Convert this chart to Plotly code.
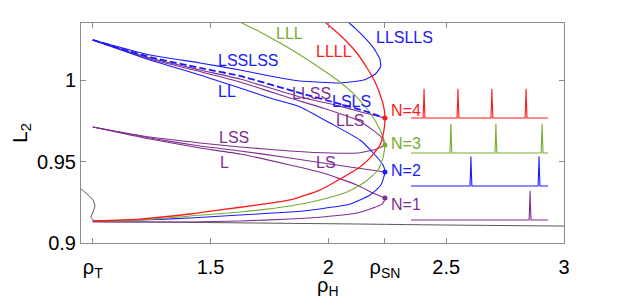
import plotly.graph_objects as go

# ---------------- data ----------------
rho_T, rho_H, rho_SN = 1.0, 2.0, 2.24

# folded branches (upper branch -> fold point -> lower branch)
red_x = [1.939, 1.990, 2.049, 2.121, 2.164, 2.198, 2.223, 2.236, 2.240, 2.236, 2.219, 2.177, 2.134, 2.020, 1.964, 1.837, 1.697, 1.540, 1.413, 1.200, 1.000]
red_y = [1.0411, 1.0350, 1.0276, 1.0166, 1.0074, 0.9988, 0.9896, 0.9828, 0.9767, 0.9693, 0.9601, 0.9522, 0.9466, 0.9368, 0.9325, 0.9264, 0.9233, 0.9203, 0.9178, 0.9147, 0.9135]

green_x = [1.582, 1.633, 1.710, 1.795, 1.880, 1.977, 2.049, 2.104, 2.147, 2.177, 2.202, 2.219, 2.236, 2.240, 2.232, 2.211, 2.155, 2.079, 1.964, 1.837, 1.625, 1.413, 1.200, 1.000]
green_y = [1.0387, 1.0350, 1.0295, 1.0227, 1.0154, 1.0062, 0.9988, 0.9920, 0.9853, 0.9798, 0.9743, 0.9693, 0.9632, 0.9601, 0.9522, 0.9448, 0.9374, 0.9313, 0.9264, 0.9227, 0.9190, 0.9166, 0.9141, 0.9135]

blue_x = [1.000, 1.243, 1.455, 1.625, 1.752, 1.880, 2.007, 2.134, 2.198, 2.232, 2.240, 2.223, 2.177, 2.092, 1.964, 1.837, 1.625, 1.413, 1.200, 1.000]
blue_y = [1.0246, 1.0123, 1.0031, 0.9951, 0.9890, 0.9835, 0.9736, 0.9632, 0.9540, 0.9479, 0.9436, 0.9356, 0.9295, 0.9239, 0.9209, 0.9190, 0.9172, 0.9153, 0.9141, 0.9135]

purple_x = [1.000, 1.243, 1.455, 1.625, 1.837, 1.977, 2.121, 2.189, 2.228, 2.240, 2.228, 2.189, 2.121, 1.977, 1.837, 1.625, 1.413, 1.000]
purple_y = [0.9712, 0.9638, 0.9583, 0.9546, 0.9479, 0.9430, 0.9356, 0.9307, 0.9282, 0.9270, 0.9239, 0.9215, 0.9184, 0.9160, 0.9147, 0.9135, 0.9129, 0.9129]

# branches ending at fold points
lsls_x = [1.000, 1.243, 1.455, 1.625, 1.880, 2.049, 2.155, 2.240]
lsls_y = [1.0246, 1.0141, 1.0074, 1.0025, 0.9920, 0.9853, 0.9810, 0.9767]

llss_x = [1.000, 1.243, 1.455, 1.625, 1.880, 2.049, 2.155, 2.240]
llss_y = [1.0246, 1.0135, 1.0062, 1.0006, 0.9896, 0.9840, 0.9798, 0.9767]

lls_x = [1.000, 1.243, 1.455, 1.625, 1.837, 1.977, 2.121, 2.189, 2.228, 2.240]
lls_y = [1.0246, 1.0129, 1.0052, 0.9988, 0.9890, 0.9828, 0.9755, 0.9693, 0.9644, 0.9601]

lss_x = [1.000, 1.243, 1.455, 1.625, 1.837, 2.007, 2.121, 2.206, 2.240]
lss_y = [0.9712, 0.9650, 0.9614, 0.9589, 0.9565, 0.9552, 0.9552, 0.9577, 0.9601]

ls_x = [1.000, 1.243, 1.455, 1.625, 1.837, 1.977, 2.121, 2.240]
ls_y = [0.9712, 0.9644, 0.9595, 0.9565, 0.9522, 0.9491, 0.9460, 0.9436]

# LSSLSS / LLSLLS loop
loop_x = [1.000, 1.243, 1.455, 1.625, 1.752, 1.880, 2.049, 2.150, 2.200, 2.222, 2.218, 2.190, 2.152, 2.113, 2.083, 2.054]
loop_y = [1.0246, 1.0154, 1.0105, 1.0062, 1.0025, 0.9994, 0.9982, 1.0000, 1.0037, 1.0082, 1.0132, 1.0200, 1.0264, 1.0319, 1.0356, 1.0393]

# black branch
black_x = [0.940, 0.950, 0.980, 1.001, 1.009, 1.001, 0.992, 1.001, 1.031, 1.243, 1.667, 2.092, 2.516, 3.000]
black_y = [0.9338, 0.9331, 0.9295, 0.9264, 0.9227, 0.9190, 0.9160, 0.9141, 0.9132, 0.9129, 0.9123, 0.9117, 0.9110, 0.9104]

# fold points
fold_y = {"N=4": 0.9767, "N=3": 0.9601, "N=2": 0.9436, "N=1": 0.9276}

# inset spike trains: baseline level, spike times
trace_x0, trace_x1 = 2.351, 2.932
spike_height = 0.0180
spikes = {
    "N=4": (0.9767, [2.406, 2.550, 2.694, 2.839]),
    "N=3": (0.9552, [2.520, 2.711, 2.907]),
    "N=2": (0.9350, [2.605, 2.894]),
    "N=1": (0.9141, [2.856]),
}

# curve labels: text, x, y, colour key
curve_labels = [
    ("LLL", 1.837, 1.0283, "green"),
    ("LLLL", 2.024, 1.0178, "red"),
    ("LLSLLS", 2.325, 1.0258, "blue"),
    ("LSSLSS", 1.659, 1.0117, "blue"),
    ("LL", 1.570, 0.9927, "blue"),
    ("LLSS", 1.930, 0.9920, "purple"),
    ("LSLS", 2.100, 0.9871, "blue"),
    ("LLS", 2.092, 0.9749, "purple"),
    ("LSS", 1.599, 0.9650, "purple"),
    ("L", 1.557, 0.9497, "purple"),
    ("LS", 1.990, 0.9491, "purple"),
]
n_label_y = {"N=4": 0.9816, "N=3": 0.9608, "N=2": 0.9442, "N=1": 0.9239}

x_tickvals = [rho_T, 1.5, rho_H, rho_SN, 2.5, 3.0]
x_ticktext = ["ρ<sub>T</sub>", "1.5", "2", "ρ<sub>SN</sub>", "2.5", "3"]
y_tickvals = [0.9, 0.95, 1.0]
y_ticktext = ["0.9", "0.95", "1"]

# ---------------- styling ----------------
C = {"red": "#ff1a1a", "green": "#77ac30", "blue": "#1a1aff", "purple": "#7e2f8e", "black": "#444444"}
N_col = {"N=4": "red", "N=3": "green", "N=2": "blue", "N=1": "purple"}
FONT = "Liberation Sans, Arial, sans-serif"

fig = go.Figure()

def curve(x, y, col, width=1.1, dash=None, shape="spline", smoothing=0.5):
    fig.add_trace(go.Scatter(x=x, y=y, mode="lines",
                             line=dict(color=C[col], width=width, dash=dash, shape=shape, smoothing=smoothing),
                             hoverinfo="skip", showlegend=False))

curve(black_x, black_y, "black", 0.9)
curve(purple_x, purple_y, "purple")
curve(ls_x, ls_y, "purple")
curve(lss_x, lss_y, "purple")
curve(lls_x, lls_y, "purple")
curve(llss_x, llss_y, "purple")
curve(blue_x, blue_y, "blue")
curve(loop_x, loop_y, "blue", smoothing=0.4)
curve(green_x, green_y, "green")
curve(red_x, red_y, "red", 1.3)
curve(lsls_x, lsls_y, "blue", 1.8, dash="7px,3px")

# fold markers
for k, yv in fold_y.items():
    fig.add_trace(go.Scatter(x=[rho_SN], y=[yv], mode="markers",
                             marker=dict(color=C[N_col[k]], size=5),
                             hoverinfo="skip", showlegend=False))

# spike trains
w = 0.004
for k, (base, times) in spikes.items():
    xs, ys = [trace_x0], [base]
    for t in times:
        xs += [t - w, t - w / 3, t, t + w / 3, t + w]
        ys += [base, base + spike_height * 0.6, base + spike_height, base + spike_height * 0.6, base]
    xs.append(trace_x1)
    ys.append(base)
    fig.add_trace(go.Scatter(x=xs, y=ys, mode="lines",
                             line=dict(color=C[N_col[k]], width=1.1),
                             hoverinfo="skip", showlegend=False))

annotations = []
for txt, xv, yv, col in curve_labels:
    annotations.append(dict(x=xv, y=yv, xref="x", yref="y", text=txt, showarrow=False,
                            font=dict(family=FONT, size=16, color=C[col]), xanchor="center", yanchor="middle"))
for k, yv in n_label_y.items():
    annotations.append(dict(x=rho_SN + 0.017, y=yv, xref="x", yref="y", text=k, showarrow=False,
                            font=dict(family=FONT, size=16, color=C[N_col[k]]), xanchor="left", yanchor="middle"))
# second line under the "2" tick: rho_H
annotations.append(dict(x=rho_H, y=0, xref="x", yref="paper", yshift=-29, text="ρ<sub>H</sub>",
                        showarrow=False, font=dict(family=FONT, size=20, color="black"),
                        xanchor="center", yanchor="top"))

axis_common = dict(showgrid=False, zeroline=False, showline=True, linecolor="#8c8c8c", linewidth=1,
                   mirror="ticks", ticks="inside", ticklen=5, tickcolor="#8c8c8c", automargin=False,
                   tickfont=dict(family=FONT, size=20, color="black"))

# the page body has an 8 px margin, so the figure is 8 px smaller and margins shifted
fig.update_layout(
    width=615, height=293,
    margin=dict(l=73, r=59, t=15, b=58),
    paper_bgcolor="white", plot_bgcolor="white",
    font=dict(family=FONT, color="black"),
    xaxis=dict(range=[0.95, 3.0], tickvals=x_tickvals, ticktext=x_ticktext, ticklabelstandoff=6, **axis_common),
    yaxis=dict(range=[0.9, 1.035], tickvals=y_tickvals, ticktext=y_ticktext,
               title=dict(text="L<sub>2</sub>", font=dict(family=FONT, size=21, color="black"), standoff=4),
               **axis_common),
    annotations=annotations,
)

fig.write_html("out.html")
